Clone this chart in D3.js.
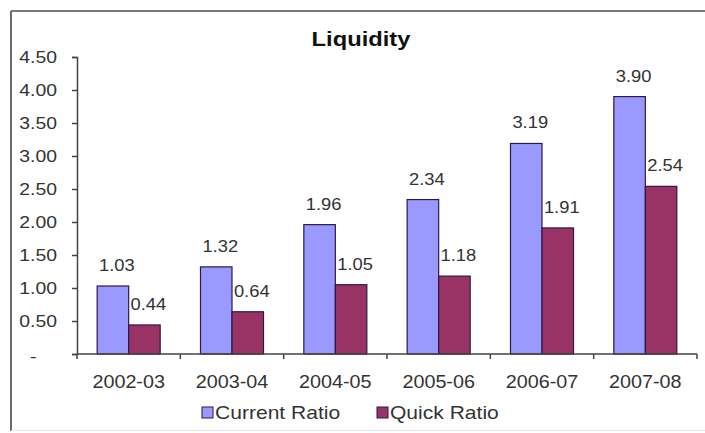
<!DOCTYPE html>
<html>
<head>
<meta charset="utf-8">
<script src="https://cdn.jsdelivr.net/npm/d3@7"></script>
<style>
  body { margin: 0; background: #fff; }
  svg { display: block; font-family: "Liberation Sans", Arial, sans-serif; }
</style>
</head>
<body>
<div id="chart"><svg></svg></div>
<script>
// chart data
const years = ["2002-03", "2003-04", "2004-05", "2005-06", "2006-07", "2007-08"];
const seriesNames = ["Current Ratio", "Quick Ratio"];
const currentRatio = [1.03, 1.32, 1.96, 2.34, 3.19, 3.90];
const quickRatio = [0.44, 0.64, 1.05, 1.18, 1.91, 2.54];
const yTicks = [0, 0.5, 1, 1.5, 2, 2.5, 3, 3.5, 4, 4.5];
const colors = ["#9999ff", "#993366"];

const w = 705, h = 433;
const sx = 1.13; // the original text is a bit wider than Arial
const svg = d3.select("#chart svg").attr("width", w).attr("height", h);

// outer frame (right edge is cut off in the picture)
svg.append("line").attr("x1", 11).attr("y1", 11).attr("x2", w).attr("y2", 11)
  .attr("stroke", "#7a7a7a").attr("stroke-width", 2);
svg.append("line").attr("x1", 11).attr("y1", 11).attr("x2", 11).attr("y2", 431)
  .attr("stroke", "#6a6a6a").attr("stroke-width", 2);
svg.append("line").attr("x1", 11).attr("y1", 430.5).attr("x2", w).attr("y2", 430.5)
  .attr("stroke", "#e4e4e4").attr("stroke-width", 1);

// title
svg.append("text").attr("transform", `translate(361,46) scale(${sx},1)`)
  .attr("text-anchor", "middle").attr("font-size", 21).attr("font-weight", "bold")
  .attr("fill", "#111").text("Liquidity");

const x = d3.scaleBand().domain(years).range([77, 697]).padding(0);
const xs = d3.scaleBand().domain(seriesNames).range([0, x.bandwidth()]).paddingInner(0).paddingOuter(0.64);
const y = d3.scaleLinear().domain([0, 4.5]).range([354, 57]);

const data = years.map((yr, i) => ({ year: yr, values: [currentRatio[i], quickRatio[i]] }));

// bars
const groups = svg.append("g").selectAll("g").data(data).join("g")
  .attr("transform", d => `translate(${x(d.year)},0)`);

groups.selectAll("rect").data(d => d.values.map((v, k) => ({ v, k })))
  .join("rect")
  .attr("x", d => xs(seriesNames[d.k]))
  .attr("y", d => y(d.v))
  .attr("width", xs.bandwidth())
  .attr("height", d => y(0) - y(d.v))
  .attr("fill", d => colors[d.k])
  .attr("stroke", "#2a1a4a").attr("stroke-width", 1.2);

groups.selectAll("text").data(d => d.values.map((v, k) => ({ v, k })))
  .join("text")
  .attr("transform", d => `translate(${xs(seriesNames[d.k]) + xs.bandwidth() / 2 + 4},${y(d.v) - 15}) scale(1.08,1)`)
  .attr("text-anchor", "middle").attr("font-size", 17).attr("fill", "#333")
  .text(d => d3.format(".2f")(d.v));

// y axis
const ysx = 1.14;
const yAxis = d3.axisLeft(y).tickValues(yTicks).tickSize(5).tickPadding(20 / ysx - 5)
  .tickFormat(d => d === 0 ? "-" : d3.format(".2f")(d));
const gy = svg.append("g").attr("transform", "translate(77,0)").call(yAxis);
gy.select(".domain").attr("stroke", "#444").attr("stroke-width", 1.5);
gy.selectAll(".tick line").attr("stroke", "#444").attr("stroke-width", 1.5);
gy.selectAll(".tick text").attr("font-size", 17).attr("fill", "#333")
  .attr("font-family", "Liberation Sans, Arial, sans-serif")
  .attr("transform", `scale(${ysx},1)`);
gy.selectAll(".tick text").filter(d => d === 0).attr("dx", -18).attr("dy", "0.45em");

// x axis: ticks at category boundaries
const gx = svg.append("g").attr("transform", "translate(0,354)");
gx.append("line").attr("x1", 77).attr("x2", 697).attr("stroke", "#444").attr("stroke-width", 1.5);
gx.selectAll("line.tk").data(years.map(d => x(d)).concat([697])).join("line")
  .attr("class", "tk").attr("x1", d => d).attr("x2", d => d).attr("y1", 0).attr("y2", 5)
  .attr("stroke", "#444").attr("stroke-width", 1.5);
gx.selectAll("text").data(years).join("text")
  .attr("transform", d => `translate(${x(d) + x.bandwidth() / 2},34) scale(${sx},1)`)
  .attr("text-anchor", "middle").attr("font-size", 17.5).attr("fill", "#333")
  .text(d => d);

// legend
const legendX = [202, 377];
const lg = svg.append("g").selectAll("g").data(seriesNames).join("g")
  .attr("transform", (d, i) => `translate(${legendX[i]},407)`);
lg.append("rect").attr("width", 11).attr("height", 11)
  .attr("fill", (d, i) => colors[i]).attr("stroke", "#2a1a4a").attr("stroke-width", 1);
lg.append("text").attr("transform", "translate(13,12) scale(1.17,1)")
  .attr("font-size", 18).attr("fill", "#333")
  .text(d => d);
</script>
</body>
</html>
